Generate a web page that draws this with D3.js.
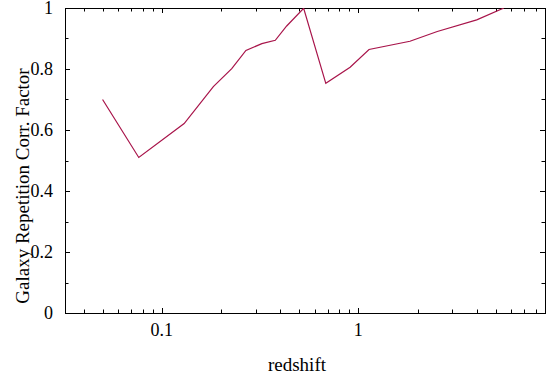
<!DOCTYPE html>
<html>
<head>
<meta charset="utf-8">
<script src="https://cdn.jsdelivr.net/npm/d3@7"></script>
<style>
  body { margin: 0; background: #fff; }
</style>
</head>
<body>
<div id="chart"></div>
<script>
// redshift values (x) and correction factors (y)
const redshift = [0.05, 0.0764, 0.130, 0.183, 0.227, 0.268, 0.323, 0.378, 0.432, 0.527,
                  0.683, 0.908, 1.133, 1.83, 2.52, 4.0, 5.5];
const corrFactor = [0.70, 0.51, 0.621, 0.742, 0.801, 0.861, 0.883, 0.894, 0.941, 0.999,
                    0.753, 0.806, 0.864, 0.891, 0.923, 0.961, 1.0];
const xMajorTicks = [0.1, 1];
const yMajorTicks = [0, 0.2, 0.4, 0.6, 0.8, 1];

const width = 553, height = 378;
const margin = { top: 8, right: 8, bottom: 65, left: 65 };
const serif = "'Liberation Serif', 'DejaVu Serif', serif";

const svg = d3.select('#chart').append('svg')
    .attr('width', width)
    .attr('height', height)
    .attr('font-family', serif);

const x = d3.scaleLog()
    .domain([0.0322, 8.9])
    .range([margin.left, width - margin.right]);

const y = d3.scaleLinear()
    .domain([0, 1])
    .range([height - margin.bottom, margin.top]);

const x0 = x.range()[0], x1 = x.range()[1];
const y0 = y.range()[0], y1 = y.range()[1];

// minor ticks for the log axis: 2..9 of each decade inside the domain
const xMinor = [];
[0.01, 0.1, 1].forEach(dec => {
    for (let k = 2; k <= 9; k++) {
        const v = dec * k;
        if (v > x.domain()[0] && v < x.domain()[1]) xMinor.push(v);
    }
});
const yMinor = d3.range(0.1, 1, 0.2);

const ticks = svg.append('g').attr('stroke', '#000').attr('stroke-width', 1);

// x ticks, pointing inward on bottom and top
xMajorTicks.concat(xMinor).forEach(v => {
    const len = xMajorTicks.includes(v) ? 5 : 3.5;
    const px = Math.round(x(v)) + 0.5;
    ticks.append('line').attr('x1', px).attr('x2', px).attr('y1', y0).attr('y2', y0 - len);
    ticks.append('line').attr('x1', px).attr('x2', px).attr('y1', y1).attr('y2', y1 + len);
});

// y ticks, inward on left and right
yMajorTicks.concat(yMinor).forEach(v => {
    const len = yMajorTicks.includes(v) ? 5 : 3.5;
    const py = Math.round(y(v)) + 0.5;
    ticks.append('line').attr('x1', x0).attr('x2', x0 + len).attr('y1', py).attr('y2', py);
    ticks.append('line').attr('x1', x1).attr('x2', x1 - len).attr('y1', py).attr('y2', py);
});

// plot frame
svg.append('rect')
    .attr('x', x0 + 0.5)
    .attr('y', y1 + 0.5)
    .attr('width', x1 - x0)
    .attr('height', y0 - y1)
    .attr('fill', 'none')
    .attr('stroke', '#000')
    .attr('stroke-width', 1);

// tick labels
svg.append('g').selectAll('text')
    .data(xMajorTicks)
    .join('text')
    .attr('x', d => x(d))
    .attr('y', 336)
    .attr('text-anchor', 'middle')
    .attr('font-family', serif)
    .style('font-size', '18px')
    .text(d => d3.format('')(d));

svg.append('g').selectAll('text')
    .data(yMajorTicks)
    .join('text')
    .attr('x', 53)
    .attr('y', d => Math.max(y(d) + 6, 14))
    .attr('text-anchor', 'end')
    .attr('font-family', serif)
    .style('font-size', '18px')
    .text(d => d3.format('')(d));

// data line, clipped to the plot box
svg.append('clipPath').attr('id', 'clip')
    .append('rect')
    .attr('x', x0).attr('y', y1)
    .attr('width', x1 - x0).attr('height', y0 - y1);

const pts = redshift.map((r, i) => [r, corrFactor[i]]);
svg.append('path')
    .datum(pts)
    .attr('clip-path', 'url(#clip)')
    .attr('fill', 'none')
    .attr('stroke', '#a8144a')
    .attr('stroke-width', 1.2)
    .attr('d', d3.line().x(d => x(d[0])).y(d => y(d[1])));

// axis titles
svg.append('text')
    .attr('x', 297)
    .attr('y', 371)
    .attr('text-anchor', 'middle')
    .attr('font-family', serif)
    .style('font-size', '19px')
    .text('redshift');

svg.append('text')
    .attr('transform', 'translate(29,186) rotate(-90)')
    .attr('text-anchor', 'middle')
    .attr('font-family', serif)
    .style('font-size', '19px')
    .text('Galaxy Repetition Corr. Factor');
</script>
</body>
</html>
